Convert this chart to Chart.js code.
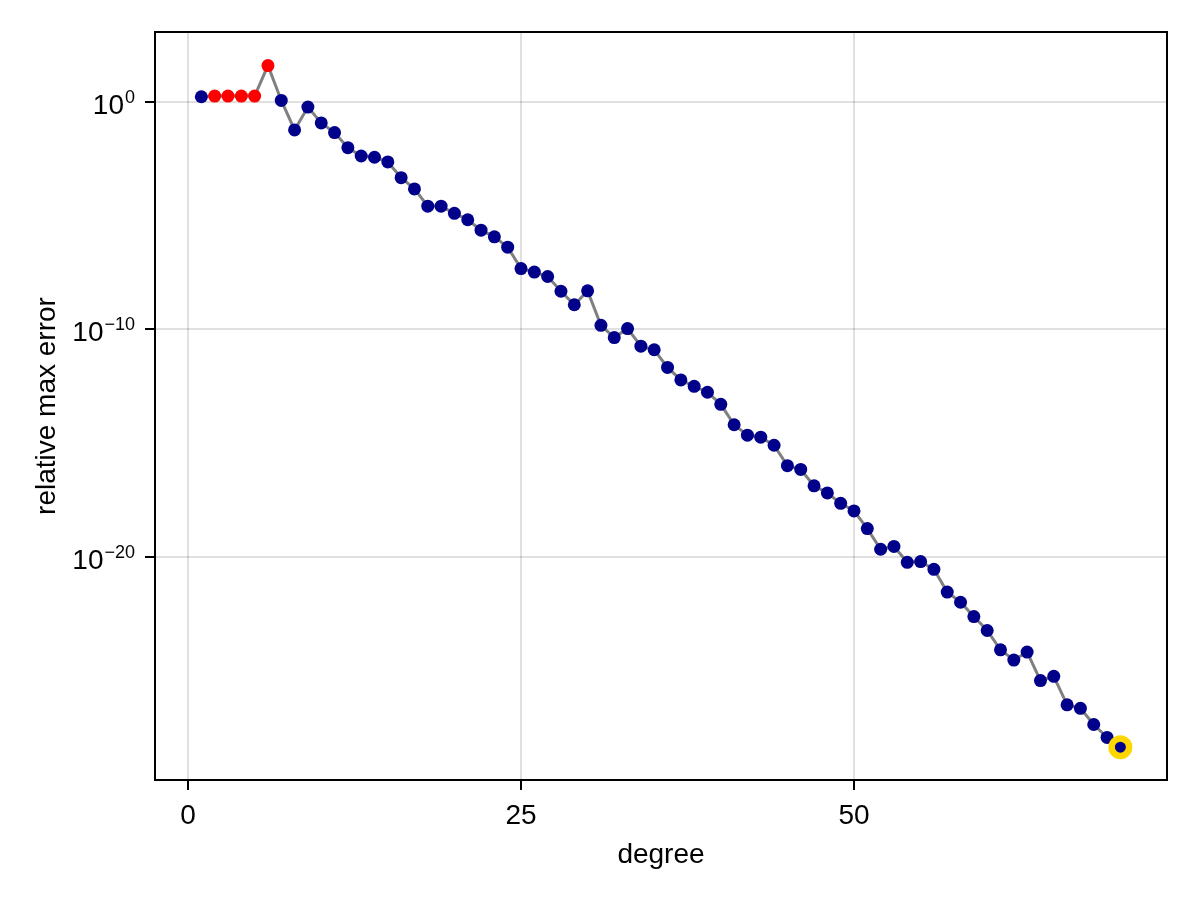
<!DOCTYPE html>
<html>
<head>
<meta charset="utf-8">
<title>relative max error vs degree</title>
<script src="https://cdn.jsdelivr.net/npm/chart.js@4.4.1/dist/chart.umd.min.js"></script>
<style>
  html, body { margin: 0; padding: 0; background: #fff; }
  #wrap { width: 1200px; height: 900px; }
</style>
</head>
<body>
<div id="wrap"><canvas id="errChart" width="1200" height="900"></canvas></div>
<script>
// values
const degrees = [1, 2, 3, 4, 5, 6, 7, 8, 9, 10,
  11, 12, 13, 14, 15, 16, 17, 18, 19, 20,
  21, 22, 23, 24, 25, 26, 27, 28, 29, 30,
  31, 32, 33, 34, 35, 36, 37, 38, 39, 40,
  41, 42, 43, 44, 45, 46, 47, 48, 49, 50,
  51, 52, 53, 54, 55, 56, 57, 58, 59, 60,
  61, 62, 63, 64, 65, 66, 67, 68, 69, 70];
const relMaxError = [1.7, 1.82, 1.82, 1.82, 1.82, 40, 1.17, 5.9e-2, 6.0e-1, 1.2e-1,
  4.5e-2, 9.8e-3, 4.2e-3, 3.7e-3, 2.3e-3, 4.7e-4, 1.5e-4, 2.6e-5, 2.6e-5, 1.26e-5,
  6.6e-6, 2.3e-6, 1.17e-6, 4.1e-7, 4.7e-8, 3.3e-8, 2.1e-8, 4.7e-9, 1.2e-9, 4.9e-9,
  1.5e-10, 4.3e-11, 1.07e-10, 1.8e-11, 1.26e-11, 2.1e-12, 5.9e-13, 3.1e-13, 1.7e-13, 5.0e-14,
  6.3e-15, 2.2e-15, 1.8e-15, 7.9e-16, 1.0e-16, 6.8e-17, 1.3e-17, 6.3e-18, 2.2e-18, 1.02e-18,
  1.7e-19, 2.1e-20, 2.8e-20, 5.6e-21, 6.0e-21, 2.75e-21, 2.75e-22, 9.8e-23, 2.3e-23, 5.6e-24,
  7.9e-25, 2.8e-25, 6.3e-25, 3.5e-26, 5.4e-26, 3.0e-27, 2.1e-27, 4.1e-28, 1.1e-28, 4.1e-29];
const flaggedDegrees = [2, 3, 4, 5, 6];
const bestDegree = 70;
const xTicks = [0, 25, 50];
const yTickExponents = [0, -10, -20];

const FONT = '"Liberation Sans", Arial, sans-serif';
Chart.defaults.color = '#000';
Chart.defaults.font.family = FONT;

const points = degrees.map((d, i) => ({ x: d, y: relMaxError[i] }));
const pointColors = degrees.map(d => flaggedDegrees.includes(d) ? '#ff0000' : '#00008b');
const best = points[degrees.indexOf(bestDegree)];

// box round the plot and the 10^n labels with real superscripts
const frameAndLogLabels = {
  id: 'frameAndLogLabels',
  afterDraw(chart) {
    const ctx = chart.ctx;
    const a = chart.chartArea;
    const yScale = chart.scales.y;
    ctx.save();
    ctx.strokeStyle = '#000';
    ctx.lineWidth = 2;
    ctx.strokeRect(a.left, a.top, a.right - a.left, a.bottom - a.top);
    ctx.fillStyle = '#000';
    ctx.textAlign = 'right';
    ctx.textBaseline = 'alphabetic';
    yTickExponents.forEach(e => {
      const py = yScale.getPixelForValue(Math.pow(10, e));
      const sup = e < 0 ? '\u2212' + Math.abs(e) : String(e);
      const xr = a.left - 20;
      ctx.font = '18px ' + FONT;
      const supW = ctx.measureText(sup).width;
      ctx.fillText(sup, xr, py + 1);
      ctx.font = '28px ' + FONT;
      ctx.fillText('10', xr - supW - 1, py + 12);
    });
    ctx.restore();
  }
};

new Chart(document.getElementById('errChart'), {
  type: 'line',
  data: {
    datasets: [
      {
        label: 'best',
        data: [best],
        showLine: false,
        pointRadius: 8.75,
        pointBorderWidth: 6.5,
        pointBorderColor: '#ffd700',
        pointBackgroundColor: 'rgba(0,0,0,0)',
        order: 0
      },
      {
        label: 'relative max error',
        data: points,
        borderColor: '#808080',
        borderWidth: 3,
        pointRadius: 6.5,
        pointBorderWidth: 0,
        pointBackgroundColor: pointColors,
        tension: 0,
        order: 1
      }
    ]
  },
  options: {
    responsive: false,
    devicePixelRatio: 1,
    animation: false,
    layout: { padding: { top: 32, right: 33, bottom: 0, left: 0 } },
    plugins: { legend: { display: false }, tooltip: { enabled: false } },
    scales: {
      x: {
        type: 'linear',
        bounds: 'data',
        min: -2.48,
        max: 73.5,
        afterBuildTicks: s => { s.ticks = xTicks.map(v => ({ value: v })); },
        afterFit: s => { s.height = 120; },
        ticks: { font: { size: 28 }, padding: 9, maxRotation: 0, callback: v => String(v) },
        grid: { color: 'rgba(0,0,0,0.12)', lineWidth: 2, tickColor: '#000', tickWidth: 2, tickLength: 10 },
        border: { display: false },
        title: { display: true, text: 'degree', font: { size: 28 }, padding: { top: 0, bottom: 28 } }
      },
      y: {
        type: 'logarithmic',
        bounds: 'data',
        min: 1.48e-30,
        max: 1.2e3,
        afterBuildTicks: s => { s.ticks = yTickExponents.map(e => ({ value: Math.pow(10, e) })); },
        afterFit: s => { s.width = 155; },
        ticks: { display: false },
        grid: { color: 'rgba(0,0,0,0.12)', lineWidth: 2, tickColor: '#000', tickWidth: 2, tickLength: 10 },
        border: { display: false },
        title: { display: true, text: 'relative max error', font: { size: 28 }, padding: { top: 30, bottom: 0 } }
      }
    }
  },
  plugins: [frameAndLogLabels]
});
</script>
</body>
</html>
